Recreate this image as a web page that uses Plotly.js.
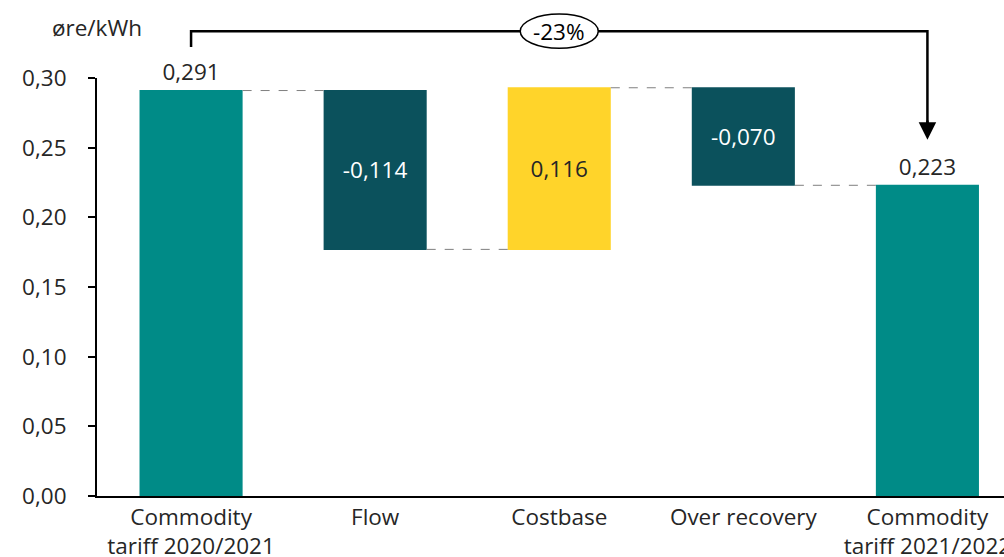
<!DOCTYPE html>
<html>
<head>
<meta charset="utf-8">
<script src="https://cdn.plot.ly/plotly-3.0.1.min.js"></script>
<style>html,body{margin:0;padding:0;background:#fff;}#chart{width:1004px;height:557px;}</style>
</head>
<body>
<div id="chart"></div>
<script>
const categories = ["Commodity<br>tariff 2020/2021", "Flow", "Costbase", "Over recovery", "Commodity<br>tariff 2021/2022"];
const measures = ["absolute", "relative", "relative", "relative", "total"];
const values = [0.291, -0.114, 0.116, -0.070, 0];
const labels = ["0,291", "-0,114", "0,116", "-0,070", "0,223"];
const changeLabel = "-23%";
const yTitle = "øre/kWh";

const FONT = "Open Sans, DejaVu Sans, sans-serif";
const FS = 22.5;
const xRange = [-0.511, 4.416];
const span = xRange[1] - xRange[0];
const px = i => (i - xRange[0]) / span; // category index -> paper x

const trace = {
  type: "waterfall",
  x: categories,
  measure: measures,
  y: values,
  text: labels,
  textinfo: "text",
  textposition: ["outside", "inside", "inside", "inside", "outside"],
  insidetextanchor: "middle",
  textfont: {family: FONT, size: FS, color: ["#262626", "#ffffff", "#262626", "#ffffff", "#262626"]},
  outsidetextfont: {family: FONT, size: FS, color: "#262626"},
  constraintext: "none",
  cliponaxis: false,
  width: 0.56,
  increasing: {marker: {color: "#FFD42A"}},
  decreasing: {marker: {color: "#0B515C"}},
  totals: {marker: {color: "#008B87"}},
  connector: {mode: "between", line: {color: "#7f7f7f", width: 1, dash: "dash"}},
  hoverinfo: "skip"
};

const yTop = 1.112, yLeftEnd = 1.074, yArrow = 0.852;
const layout = {
  width: 1004, height: 557,
  margin: {l: 97, r: 0, t: 78, b: 61},
  paper_bgcolor: "#fff", plot_bgcolor: "#fff",
  separators: ", ",
  showlegend: false,
  font: {family: FONT, size: FS, color: "#262626"},
  xaxis: {
    range: xRange, showgrid: false, zeroline: false,
    showline: true, linecolor: "#000", linewidth: 2,
    ticks: "", tickfont: {family: FONT, size: FS, color: "#262626"},
    fixedrange: true
  },
  yaxis: {
    range: [0, 0.30], dtick: 0.05, tickformat: ".2f",
    showgrid: false, zeroline: false,
    showline: true, linecolor: "#000", linewidth: 2,
    ticks: "outside", ticklen: 7, tickwidth: 2, tickcolor: "#000",
    ticklabelstandoff: 17,
    tickfont: {family: FONT, size: FS, color: "#262626"},
    fixedrange: true
  },
  shapes: [
    {type: "path", xref: "paper", yref: "paper",
     path: `M ${px(0)} ${yLeftEnd} L ${px(0)} ${yTop} L ${px(4)} ${yTop} L ${px(4)} ${yArrow + 0.04}`,
     line: {color: "#000", width: 2.5}},
    {type: "circle", xref: "paper", yref: "paper",
     x0: px(2) - 0.043, x1: px(2) + 0.043, y0: yTop - 0.041, y1: yTop + 0.041,
     fillcolor: "#fff", line: {color: "#000", width: 1.5}}
  ],
  annotations: [
    {xref: "paper", yref: "paper", x: -0.052, y: 1.12, xanchor: "left", yanchor: "middle",
     text: yTitle, showarrow: false, font: {family: FONT, size: FS, color: "#262626"}},
    {xref: "paper", yref: "paper", x: px(2), y: yTop, xanchor: "center", yanchor: "middle",
     text: changeLabel, showarrow: false, font: {family: FONT, size: FS, color: "#000"}},
    {xref: "paper", yref: "paper", x: px(4), y: yArrow, ax: px(4), ay: yArrow + 0.05,
     axref: "paper", ayref: "paper", text: "", showarrow: true,
     arrowhead: 2, arrowsize: 1.4, arrowwidth: 2.5, arrowcolor: "#000", standoff: 0}
  ]
};

Plotly.newPlot("chart", [trace], layout, {displayModeBar: false, staticPlot: true});
</script>
</body>
</html>
